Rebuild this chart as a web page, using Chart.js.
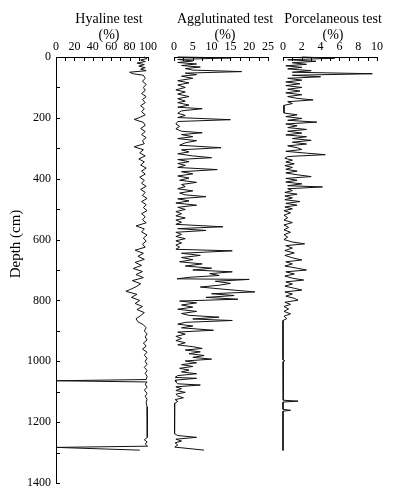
<!DOCTYPE html>
<html>
<head>
<meta charset="utf-8">
<script src="https://cdn.jsdelivr.net/npm/chart.js@4.4.0/dist/chart.umd.min.js"></script>
<style>
  body { margin: 0; background: #fff; }
  #wrap { position: relative; width: 405px; height: 502px; }
  canvas { position: absolute; top: 0; }
</style>
</head>
<body>
<div id="wrap">
  <canvas id="cHya" style="left:0px" width="160" height="502"></canvas>
  <canvas id="cAgg" style="left:164px" width="114" height="502"></canvas>
  <canvas id="cPor" style="left:273px" width="114" height="502"></canvas>
</div>
<script>
// depth (cm) and percentage for each test type
const hyaDepth = [0,5,10,15,20,25,30,35,40,45,50,55,60,70,80,90,100,110,120,130,140,150,160,170,180,190,200,205,215,225,235,245,255,265,275,285,295,305,315,325,335,345,355,365,375,385,395,405,415,425,435,445,455,465,475,485,495,505,515,525,535,545,555,565,575,585,595,605,615,625,635,645,655,665,675,685,695,705,715,725,735,745,755,765,770,780,790,800,810,820,830,840,850,860,870,880,890,900,910,920,930,940,950,960,970,980,990,1000,1010,1020,1030,1040,1050,1060,1064,1068,1075,1085,1095,1105,1115,1125,1135,1150,1175,1200,1225,1250,1258,1265,1272,1279,1283,1292];
const hyaValue = [96,99,92,97,88,96,90,97,92,98,80,84,95,97,94,98,95,97,93,98,94,97,92,96,93,97,90,85,95,97,92,97,93,98,94,96,85,95,91,97,90,96,92,98,93,97,91,96,93,98,92,97,94,99,93,98,95,99,93,97,94,98,87,96,93,99,95,98,94,97,86,95,89,96,86,93,84,94,87,95,83,92,87,80,76,88,82,91,86,94,88,96,92,87,89,95,98,96,99,97,99,95,98,94,99,96,99,97,99,96,99,97,99,98,0,99,97,99,96,99,97,99,98,99,99.5,99,99.5,99,96,99,97,99.5,0,91];

const aggDepth = [0,3,8,13,18,23,28,33,38,43,48,53,58,63,70,78,85,92,100,108,115,122,130,137,145,150,158,165,170,177,185,192,199,206,212,220,228,236,244,249,255,262,268,275,282,290,298,305,312,318,325,331,337,344,350,356,363,370,377,384,391,398,405,412,419,426,433,440,447,453,459,466,473,480,487,494,501,508,515,522,529,536,543,550,558,564,570,576,583,590,597,604,611,618,625,632,637,645,652,659,666,673,680,687,694,700,706,712,718,724,729,731,737,744,750,756,763,772,778,784,790,796,802,808,815,822,829,836,843,849,855,861,866,872,878,884,890,898,904,911,918,925,932,939,946,952,958,963,969,975,981,987,993,999,1005,1011,1017,1023,1029,1035,1041,1047,1053,1056,1062,1068,1074,1078,1084,1090,1096,1102,1108,1114,1120,1126,1132,1138,1160,1190,1220,1238,1244,1250,1256,1262,1268,1275,1282,1292];
const aggValue = [1,15,1,5,1,6,2,7,3,5,18,3,6,2,5,1,4,1,3,0.5,3,1,4,1,3,1,4,1,7.5,2,1,3,1,15,1,0.5,1.5,0.5,2,7.5,2,5,1,6,3,1.5,12.5,2,4,1,5,10,1,4,1,3,1,11.5,2,5,1,4,1.5,6,2,3,1,5,1.5,3,8.5,1,4,0.5,6,1,3,0.5,2,0.5,3,0.5,2,0.5,13,1,8.5,0.5,2,0.5,3,0.5,2,0.5,1.5,0.5,15.5,2,7,2,5,1.5,7.5,3,10,5,15.5,9.5,12,4,0.8,20,11,15,12,7,13,21.5,10,16,8.5,17,1.5,6,2,5,1,6,2,4,12,5,15.5,3,1,5,2,10.5,1,3,0.5,2,0.5,3,1,5,7.5,3,7,4,8,5,10,3,6,2,5,1.5,4,2,6,1,0.3,6,0.3,0.5,1,7,0.5,2,0.5,3,0.5,1,2.5,0.3,1,0.2,0.1,0.2,0.1,0.2,1,6,0.5,2,0.3,1,0.2,8];

const porDepth = [0,4,9,14,19,24,29,34,39,45,50,55,60,65,70,76,82,88,94,100,106,112,118,124,130,136,141,147,153,159,165,175,184,190,196,202,208,214,220,226,232,238,244,250,256,262,268,274,280,286,292,298,304,310,316,321,327,333,339,345,351,357,363,369,375,381,387,393,399,405,411,417,423,427,433,439,445,451,457,463,469,475,481,487,493,499,505,512,520,528,536,544,552,560,568,576,584,592,600,608,614,620,628,636,644,652,660,667,673,680,687,694,700,706,713,720,727,733,739,746,753,760,766,772,779,786,793,799,806,813,820,828,836,844,852,860,866,900,950,995,998,1001,1082,1085,1088,1128,1131,1134,1158,1161,1164,1293];
const porValue = [2,5.5,0.5,3.5,1,2.5,0.3,2,0.5,3,1,9.5,1,4,0.5,2,0.3,1.8,0.3,2,0.5,1.8,0.3,2,0.5,1.5,3.2,0.5,1,0.1,0.1,0.1,0.1,1.5,0.3,2,0.5,3.6,0.3,1.5,0.5,2.5,0.5,2,0.3,2.5,1,3,1,2.5,0.5,1.5,2,0.3,2.5,4.5,0.5,0.2,1,0.3,1.2,0.2,1,0.3,1.5,0.3,1.5,3,0.3,1.5,0.3,2,0.5,4.2,0.5,1,0.2,1.5,0.2,1,0.2,1.8,0.3,1.5,0.2,1,0.1,0.8,0.1,0.5,0.1,1,0.1,0.6,0.1,0.8,0.1,0.5,0.1,1,2.3,0.3,1,0.2,1.2,0.2,1,2,0.3,1,0.2,1.5,2.5,0.3,1.2,0.2,1,2.2,0.3,1,0.2,1.2,2,0.2,1,0.3,1.2,1.6,0.2,0.8,0.1,0.6,0.1,0.8,0.1,0.4,0,0,0,0,0.2,0,0,0.1,0,0,1.6,0,0,0.8,0,0];

const depthMax = 1400;

Chart.defaults.font.family = '"Liberation Serif", "Times New Roman", serif';
Chart.defaults.font.size = 12;
Chart.defaults.color = '#000';

// ticks drawn inward from the axis lines
const innerTicks = {
  id: 'innerTicks',
  afterDraw(chart) {
    const ctx = chart.ctx;
    const area = chart.chartArea;
    const xs = chart.scales.x, ys = chart.scales.y;
    ctx.save();
    ctx.strokeStyle = '#000';
    ctx.lineWidth = 1;
    xs.ticks.forEach(t => {
      const px = Math.round(xs.getPixelForValue(t.value)) + 0.5;
      ctx.beginPath(); ctx.moveTo(px, area.top); ctx.lineTo(px, area.top + 4); ctx.stroke();
    });
    if (ys.options.display) {
      ys.ticks.forEach(t => {
        const py = Math.round(ys.getPixelForValue(t.value)) + 0.5;
        ctx.beginPath(); ctx.moveTo(area.left, py); ctx.lineTo(area.left + 4, py); ctx.stroke();
      });
    }
    ctx.restore();
  }
};

// two-line panel heading above the tick labels
const panelTitle = {
  id: 'panelTitle',
  afterDraw(chart, args, opts) {
    const ctx = chart.ctx;
    const a = chart.chartArea;
    const cx = (a.left + a.right) / 2 + (opts.dx || 0);
    ctx.save();
    ctx.fillStyle = '#000';
    ctx.font = '14px "Liberation Serif", serif';
    ctx.textAlign = 'center';
    ctx.textBaseline = 'middle';
    (opts.lines || []).forEach((s, i) => ctx.fillText(s, cx, 19 + i * 16));
    if (opts.depthLabel) {
      ctx.translate(16, 244);
      ctx.rotate(-Math.PI / 2);
      ctx.font = '15px "Liberation Serif", serif';
      ctx.fillText(opts.depthLabel, 0, 0);
    }
    ctx.restore();
  }
};

function makePanel(id, depth, value, xMax, step, labelEvery, title, dx, showDepth) {
  new Chart(document.getElementById(id), {
    type: 'scatter',
    data: {
      datasets: [{
        data: depth.map((d, i) => ({ x: value[i], y: d })),
        showLine: true,
        borderColor: '#111',
        borderWidth: 1,
        pointRadius: 0,
        tension: 0,
        clip: 2
      }]
    },
    options: {
      responsive: false,
      animation: false,
      layout: { padding: { left: showDepth ? 0 : 10, right: 10, top: 0, bottom: 19 } },
      plugins: {
        legend: { display: false },
        tooltip: { enabled: false },
        panelTitle: { lines: title, dx: dx, depthLabel: showDepth ? 'Depth (cm)' : null }
      },
      scales: {
        x: {
          type: 'linear',
          position: 'top',
          min: 0, max: xMax,
          grid: { display: false, drawTicks: false },
          border: { display: true, color: '#000', width: 1 },
          ticks: {
            stepSize: step, autoSkip: false, maxRotation: 0, padding: 3,
            callback: v => (Math.abs(v / labelEvery - Math.round(v / labelEvery)) < 1e-6 ? v : '')
          },
          afterFit: s => { s.height = 57; }
        },
        y: {
          type: 'linear',
          display: showDepth,
          reverse: true,
          min: 0, max: depthMax,
          grid: { display: false, drawTicks: false },
          border: { display: true, color: '#000', width: 1 },
          ticks: {
            stepSize: 100, autoSkip: false, padding: 5,
            callback: v => (v % 200 === 0 ? v : '')
          },
          afterFit: s => { s.width = showDepth ? 56 : 0; }
        }
      }
    },
    plugins: [innerTicks, panelTitle]
  });
}

makePanel('cHya', hyaDepth, hyaValue, 100, 10, 20, ['Hyaline test', '(%)'], 7, true);
makePanel('cAgg', aggDepth, aggValue, 25, 2.5, 5, ['Agglutinated test', '(%)'], 4, false);
makePanel('cPor', porDepth, porValue, 10, 1, 2, ['Porcelaneous test', '(%)'], 3, false);
</script>
</body>
</html>
